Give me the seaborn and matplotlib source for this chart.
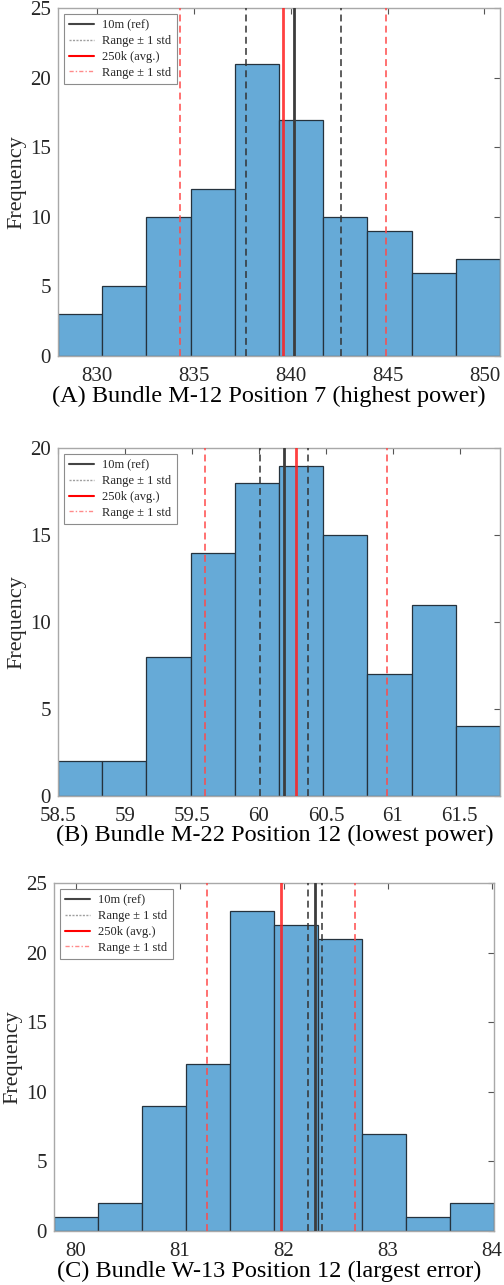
import numpy as np
import pandas as pd
import matplotlib
matplotlib.use("Agg")
import matplotlib.pyplot as plt
from matplotlib.lines import Line2D
import seaborn as sns

sns.set_style("white")
plt.rcParams["font.family"] = ["Liberation Serif", "DejaVu Serif"]
plt.rcParams["mathtext.fontset"] = "stix"

# ---- data -------------------------------------------------------------
# (A) Bundle M-12 Position 7
a_counts = [3, 5, 10, 12, 21, 17, 10, 9, 6, 7]
a_first_edge, a_bin_width = 828.0, 2.28
a_ref, a_ref_std = 840.15, 2.45
a_avg, a_avg_std = 839.6, 5.3
a_xlim = (828.0, 850.8)
a_xticks = [830, 835, 840, 845, 850]
a_yticks = [0, 5, 10, 15, 20, 25]

# (B) Bundle M-22 Position 12
b_counts = [2, 2, 8, 14, 18, 19, 15, 7, 11, 4]
b_first_edge, b_bin_width = 58.5, 0.330
b_ref, b_ref_std = 60.19, 0.18
b_avg, b_avg_std = 60.28, 0.68
b_xlim = (58.5, 61.8)
b_xticks = [58.5, 59, 59.5, 60, 60.5, 61, 61.5]
b_yticks = [0, 5, 10, 15, 20]

# (C) Bundle W-13 Position 12
c_counts = [1, 2, 9, 12, 23, 22, 21, 7, 1, 2]
c_first_edge, c_bin_width = 79.79, 0.423
c_ref, c_ref_std = 82.30, 0.07
c_avg, c_avg_std = 81.97, 0.71
c_xlim = (79.79, 84.02)
c_xticks = [80, 81, 82, 83, 84]
c_yticks = [0, 5, 10, 15, 20, 25]

captions = [
    "(A) Bundle M-12 Position 7 (highest power)",
    "(B) Bundle M-22 Position 12 (lowest power)",
    "(C) Bundle W-13 Position 12 (largest error)",
]
legend_labels = ["10m (ref)", "Range \u00b1 1 std", "250k (avg.)", "Range \u00b1 1 std"]

# ---- styling ----------------------------------------------------------
W, H = 504, 1285
BAR = "#66aad7"
BAR_EDGE = "#25323d"
REF = "#3c3c3c"
AVG = "#ff2020"
AVG_DASH = "#ff4a4a"
FRAME = "#a8a8a8"
TXT = "#262626"

fig = plt.figure(figsize=(W / 100, H / 100), dpi=100)


def px_axes(left, right, top, bottom):
    return fig.add_axes([left / W, 1 - bottom / H, (right - left) / W, (bottom - top) / H])


def panel(ax, counts, first_edge, width, ref, ref_std, avg, avg_std,
          xlim, xticks, yticks, ylim_top):
    n = len(counts)
    edges = [first_edge + width * i for i in range(n + 1)]
    centers = [(edges[i] + edges[i + 1]) / 2 for i in range(n)]
    df = pd.DataFrame({"value": centers, "count": counts})
    sns.histplot(data=df, x="value", weights="count", bins=edges, ax=ax,
                 color=BAR, alpha=1.0, edgecolor=BAR_EDGE, linewidth=0.9, zorder=2)

    ax.axvline(ref - ref_std, color="#333333", lw=1.1, dashes=(4.5, 2.8), zorder=3)
    ax.axvline(ref + ref_std, color="#333333", lw=1.1, dashes=(4.5, 2.8), zorder=3)
    ax.axvline(avg - avg_std, color=AVG_DASH, lw=1.1, dashes=(4.5, 2.8), zorder=3)
    ax.axvline(avg + avg_std, color=AVG_DASH, lw=1.1, dashes=(4.5, 2.8), zorder=3)
    ax.axvline(ref, color=REF, lw=2.0, zorder=4)
    ax.axvline(avg, color=AVG, lw=2.0, alpha=0.85, zorder=4)

    ax.set_xlim(*xlim)
    ax.set_ylim(0, ylim_top)
    ax.set_xticks(xticks)
    ax.set_xticklabels([f"{t:g}" for t in xticks])
    ax.set_yticks(yticks)
    ax.set_xlabel("")
    ax.set_ylabel("Frequency", fontsize=16, color=TXT, labelpad=3)
    ax.tick_params(direction="in", length=4, width=0.8, color="#555555",
                   top=True, right=True, labelsize=15, labelcolor=TXT)
    ax.tick_params(axis="x", pad=8)
    ax.tick_params(axis="y", pad=5)
    for s in ax.spines.values():
        s.set_color(FRAME)
        s.set_linewidth(1.0)
        s.set_visible(True)

    handles = [
        Line2D([], [], color="#444444", lw=1.5),
        Line2D([], [], color="#a0a0a0", lw=1.0, dashes=(1.5, 1.0)),
        Line2D([], [], color="#ff0000", lw=1.5),
        Line2D([], [], color="#ff8a8a", lw=1.0, dashes=(3, 1.5, 1, 1.5)),
    ]
    leg = ax.legend(handles, legend_labels, loc="upper left", fontsize=9,
                    frameon=True, fancybox=False, edgecolor="#8c8c8c",
                    framealpha=1.0, handlelength=2.0, handletextpad=0.6,
                    borderpad=0.45, labelspacing=0.3, borderaxespad=0.45)
    leg.get_frame().set_linewidth(0.8)
    for t in leg.get_texts():
        t.set_color(TXT)


ax_a = px_axes(58, 500, 8.3, 356)
panel(ax_a, a_counts, a_first_edge, a_bin_width, a_ref, a_ref_std, a_avg, a_avg_std,
      a_xlim, a_xticks, a_yticks, 25)
ax_b = px_axes(58, 500, 448.3, 795.7)
panel(ax_b, b_counts, b_first_edge, b_bin_width, b_ref, b_ref_std, b_avg, b_avg_std,
      b_xlim, b_xticks, b_yticks, 20)
ax_c = px_axes(54, 494, 883.3, 1231)
panel(ax_c, c_counts, c_first_edge, c_bin_width, c_ref, c_ref_std, c_avg, c_avg_std,
      c_xlim, c_xticks, c_yticks, 25)

fig.text(268.5 / W, 1 - 396 / H, captions[0], ha="center", va="center", fontsize=17.5, color="black")
fig.text(275 / W, 1 - 835 / H, captions[1], ha="center", va="center", fontsize=17.5, color="black")
fig.text(269 / W, 1 - 1271 / H, captions[2], ha="center", va="center", fontsize=17.5, color="black")

fig.savefig("out.png", dpi=100)
